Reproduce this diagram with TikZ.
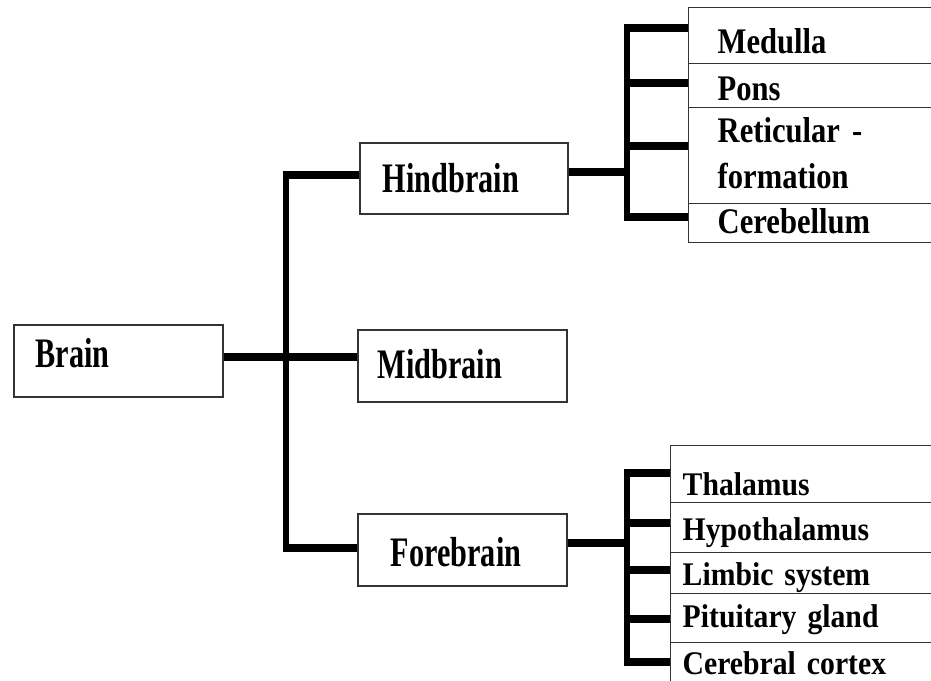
\documentclass[tikz,border=0pt]{standalone}
\usepackage{fontspec}
\usepackage{tikz}
\newfontfamily\partfont[FakeStretch=0.72]{Liberation Serif}
\newfontfamily\hindfont[FakeStretch=0.85]{Liberation Serif}
\newfontfamily\forefont[FakeStretch=0.9]{Liberation Serif}
\newcommand\hcellfont{\hindfont\bfseries\fontsize{36}{46}\selectfont\spaceskip 5pt\relax}
\newcommand\fcellfont{\forefont\bfseries\fontsize{33}{40}\selectfont\spaceskip 4pt\relax}

\begin{document}
\begin{tikzpicture}[x=1pt,y=-1pt,
  part/.style={draw=black!80,line width=1.6pt,anchor=north west,inner ysep=0pt,align=left,
    font=\partfont\bfseries\fontsize{42}{46}\selectfont},
  cell/.style={draw=black!80,line width=1.4pt,anchor=north west,inner ysep=0pt,align=left,text width=260pt},
  hcell/.style={cell,inner xsep=29pt,font=\hcellfont},
  fcell/.style={cell,inner xsep=12pt,font=\fcellfont},
  hlink/.style={line width=7.5pt,shorten <=-2.75pt},
  vlink/.style={line width=5.5pt,shorten <=-3.75pt,shorten >=-3.75pt}]
\useasboundingbox (0,0) rectangle (931,680);
\clip (0,0) rectangle (931,680);

\node[part,inner xsep=22pt,text width=165pt,text height=43pt,text depth=29pt] (br) at (13,324) {Brain};
\node[part,inner xsep=23pt,text width=162pt,text height=50pt,text depth=21pt] (hb) at (359,142) {Hindbrain};
\node[part,inner xsep=20pt,text width=169pt,text height=49pt,text depth=23pt] (mb) at (357,329) {Midbrain};
\node[part,inner xsep=33pt,text width=143pt,text height=53pt,text depth=19pt] (fb) at (357,513) {Forebrain};

\node[hcell,text height=46pt,text depth=10pt] (med) at (688,7) {Medulla};
\node[hcell,text height=37pt,text depth=7pt] (pons) at (688,63) {Pons};
\node[hcell,text height=35pt,text depth=61pt] (ret) at (688,107) {Reticular -\\formation};
\node[hcell,text height=30pt,text depth=9pt] (cer) at (688,203) {Cerebellum};

\node[fcell,text height=50pt,text depth=7pt] (tha) at (670,445) {Thalamus};
\node[fcell,text height=38pt,text depth=12pt] (hyp) at (670,502) {Hypothalamus};
\node[fcell,text height=33pt,text depth=8pt] (lim) at (670,552) {Limbic system};
\node[fcell,text height=34pt,text depth=15pt] (pit) at (670,593) {Pituitary gland};
\node[fcell,text height=32pt,text depth=48pt] (cor) at (670,642) {Cerebral cortex};

\coordinate (b1) at (286,175);
\coordinate (b2) at (286,357);
\coordinate (b3) at (286,548);
\draw[vlink] (b1) -- (b3);
\draw[hlink] (b1) -- (b1 -| hb.west);
\draw[hlink] (b3) -- (b3 -| fb.west);
\draw[line width=7.5pt] (b2 -| br.east) -- (b2 -| mb.west);

\coordinate (t0) at (627,172);
\foreach \y [count=\i] in {28,83,146,217}
  \coordinate (t\i) at (627,\y);
\draw[line width=7.5pt] (t0 -| hb.east) -- (t0);
\draw[vlink] (t1) -- (t4);
\foreach \i in {1,...,4}
  \draw[hlink] (t\i) -- (t\i -| med.west);

\coordinate (f0) at (627,543);
\foreach \y [count=\i] in {473,523,570,619,662}
  \coordinate (f\i) at (627,\y);
\draw[line width=7.5pt] (f0 -| fb.east) -- (f0);
\draw[vlink] (f1) -- (f5);
\foreach \i in {1,...,5}
  \draw[hlink] (f\i) -- (f\i -| tha.west);
\end{tikzpicture}
\end{document}
